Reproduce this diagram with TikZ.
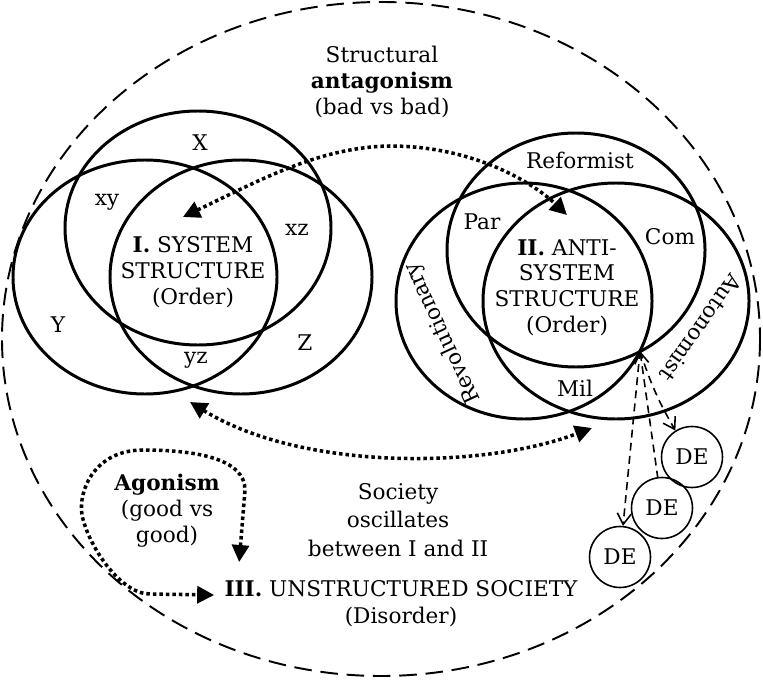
\documentclass[tikz,border=0pt]{standalone}
\usepackage{fontspec}
\setmainfont{DejaVu Serif}
\usepackage{tikz}
\usetikzlibrary{arrows.meta,calc}
\newcommand{\diagfont}{\fontsize{12.3}{14.7}\selectfont}
\tikzset{
  venn line/.style={line width=1.7pt},
  outer line/.style={line width=1.1pt, dash pattern=on 10pt off 5pt},
  dot arrow/.style={{Triangle[length=3.4mm, width=3.4mm]}-{Triangle[length=3.4mm, width=3.4mm]}, line width=2pt, dash pattern=on 2pt off 1.7pt},
  de arrow/.style={-{Straight Barb[length=2.2mm, width=2.8mm]}, line width=0.9pt, dash pattern=on 4.5pt off 3pt},
  venn label/.style={font=\diagfont, inner sep=0pt, align=center},
  de circle/.style={draw, circle, line width=0.9pt, minimum size=1.22cm, inner sep=0pt, font=\diagfont},
}

\begin{document}
\begin{tikzpicture}[x=0.02cm, y=-0.02cm]
  \useasboundingbox (0,0) rectangle (763,682);
  % society
  \draw[outer line] (381,339) ellipse [x radius=379, y radius=337];
  % system structure
  \draw[venn line] (198,228) ellipse [x radius=133, y radius=117];
  \draw[venn line] (145,277) ellipse [x radius=132, y radius=117];
  \draw[venn line] (241,277) ellipse [x radius=131, y radius=117];
  % anti-system structure
  \draw[venn line] (576,250) ellipse [x radius=129, y radius=117];
  \draw[venn line] (524,301) ellipse [x radius=128, y radius=118];
  \draw[venn line] (616,301) ellipse [x radius=133, y radius=118];

  \node[venn label] (antag) at (382,82) {Structural\\\textbf{antagonism}\\(bad vs bad)};
  \node[venn label] (lx) at (200,143) {X};
  \node[venn label] (lxy) at (107,202) {xy};
  \node[venn label] (lxz) at (297,230) {xz};
  \node[venn label] (ly) at (58,325) {Y};
  \node[venn label] (lz) at (305,343) {Z};
  \node[venn label] (lyz) at (196,360) {yz};
  \node[venn label, anchor=north] (sys) at (193,236) {\textbf{I.} SYSTEM\\STRUCTURE\\(Order)};

  \node[venn label] (lref) at (580,160) {Reformist};
  \node[venn label] (lpar) at (482,222) {Par};
  \node[venn label] (lcom) at (670,237) {Com};
  \node[venn label] (lmil) at (575,388) {Mil};
  \node[venn label, rotate=115] (lrev) at (443,333) {Revolutionary};
  \node[venn label, rotate=-125] (laut) at (701,328) {Autonomist};
  \node[venn label, anchor=north] (anti) at (567,239) {\textbf{II.} ANTI-\\SYSTEM\\STRUCTURE\\(Order)};

  \node[venn label] (agon) at (167,511) {\textbf{Agonism}\\(good vs\\good)};
  \node[venn label, font=\fontsize{12.3}{16.4}\selectfont] (osc) at (398,520) {Society\\oscillates\\between I and II};
  \node[venn label, anchor=north, font=\fontsize{12.3}{15.3}\selectfont] (unstr) at (401,580) {\textbf{III.} UNSTRUCTURED SOCIETY\\(Disorder)};

  \node[de circle] (de1) at (692,457) {DE};
  \node[de circle] (de2) at (662,508) {DE};
  \node[de circle] (de3) at (620,557) {DE};

  % antagonism between I and II
  \draw[dot arrow] ($(sys.north)+(-10,-19)$) .. controls (260,180) and (320,147) .. (390,146)
    .. controls (470,146) and (530,180) .. ($(anti.north)+(0,-24)$);
  % oscillation
  \coordinate (lowI) at (190,402);
  \coordinate (lowII) at (592,428);
  \draw[dot arrow] (lowI) .. controls (300,470) and (480,470) .. (lowII);
  % agonism loop
  \draw[dot arrow] ($(unstr.north west)+(15,-18)$) -- (245,490)
    .. controls (245,460) and (200,450) .. (143,450)
    .. controls (95,450) and (78,490) .. (82,515)
    .. controls (88,545) and (120,594) .. (150,594) -- ($(unstr.north west)+(-10,15)$);
  % splits
  \coordinate (hub) at (640,351);
  \draw[de arrow] (hub) to[bend right=6] (de1);
  \draw[de arrow, {Straight Barb[length=2.2mm, width=2.8mm]}-] (hub) -- (de2);
  \draw[de arrow] (hub) -- (de3);
\end{tikzpicture}
\end{document}
